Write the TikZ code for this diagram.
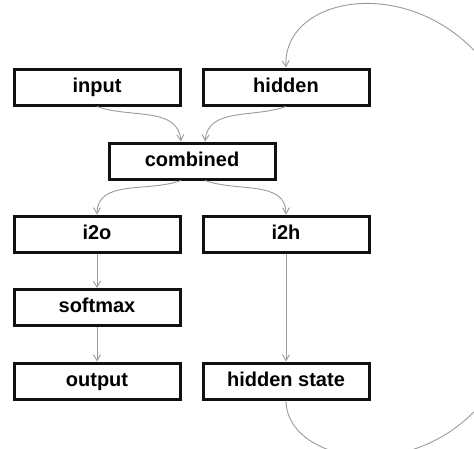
\documentclass[tikz,border=0pt]{standalone}
\usepackage{fontspec}
\setmainfont{Liberation Sans}
\usetikzlibrary{arrows.meta, positioning}
\definecolor{ink} {HTML}{111111}
\definecolor{wire}{HTML}{9A9A9A}
\tikzset{
  box/.style = {draw=ink, line width=3pt, fill=white,
                minimum width=166pt, minimum height=36pt, inner sep=0pt,
                text height=14pt, text depth=4pt,
                font=\fontsize{20}{22}\selectfont\bfseries},
  arr/.style = {-{Straight Barb[length=6pt,width=7pt]}, wire, line width=0.9pt},
}

\begin{document}
\begin{tikzpicture}[x=1pt, y=1pt, node distance=34.5pt and 20pt]
  \useasboundingbox (0,0) rectangle (474,-448);
  \clip (0,0) rectangle (474,-448);

  % layers
  \node[box] (input) at (97,-87) {input};
  \node[box, right=of input] (hidden) {hidden};
  \node[box] (combined) at (192,-161) {combined};
  \node[box, below=108pt of input] (i2o) {i2o};
  \node[box, below=108pt of hidden] (i2h) {i2h};
  \node[box, below=of i2o] (softmax) {softmax};
  \node[box, below=of softmax] (output) {output};
  \node[box, below=108pt of i2h] (hstate) {hidden state};

  % merge and split
  \draw[arr] (input.south) to[out=-20, in=95] ([xshift=-11pt]combined.north);
  \draw[arr] (hidden.south) to[out=200, in=85] ([xshift=13pt]combined.north);
  \draw[arr] ([xshift=-11pt]combined.south) to[out=200, in=90] (i2o.north);
  \draw[arr] ([xshift=13pt]combined.south) to[out=-20, in=90] (i2h.north);

  % straight links
  \draw[arr] (i2o) -- (softmax);
  \draw[arr] (softmax) -- (output);
  \draw[arr] (i2h) -- (hstate);

  % recurrence
  \coordinate (loopR) at (535,-230);
  \draw[arr] (hstate.south) .. controls +(0,-85) and +(0,-275) .. (loopR)
    .. controls +(0,270) and +(-5,100) .. (hidden.north);

\end{tikzpicture}
\end{document}
